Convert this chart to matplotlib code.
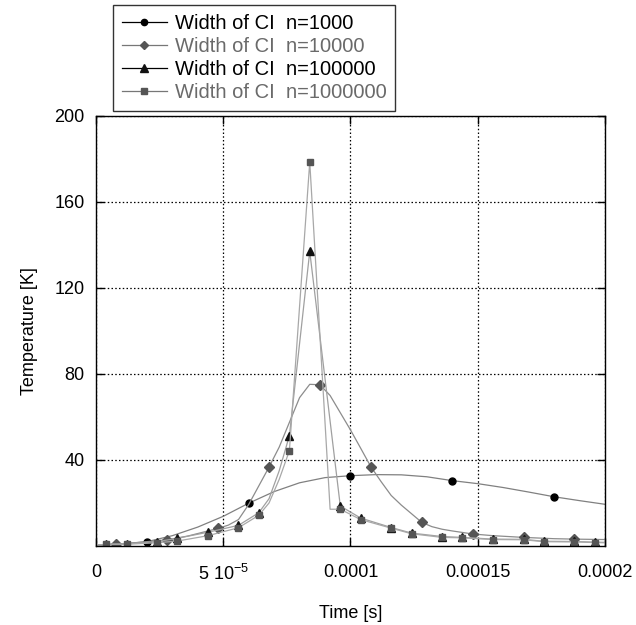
"""Width of CI vs time for four sample sizes."""
import numpy as np
import matplotlib

matplotlib.use("Agg")
import matplotlib.pyplot as plt
from matplotlib.lines import Line2D

# time in microseconds, temperature in K
t_1000 = [1, 10, 20, 30, 40, 50, 60, 70, 80, 90, 100, 110, 120, 130, 140,
          150, 160, 170, 180, 190, 200]
T_1000 = [0.3, 0.9, 2.0, 4.8, 8.8, 13.8, 19.9, 25.3, 29.4, 31.8, 32.7, 33.2,
          33.1, 32.2, 30.4, 29.0, 27.2, 25.1, 22.9, 21.1, 19.4]
mark_1000 = [2, 6, 10, 14, 18]

t_10k = [1, 8, 16, 28, 36, 48, 52, 56, 60, 64, 68, 72, 76, 80, 84, 88, 92,
         96, 100, 104, 108, 112, 116, 120, 124, 128, 132, 136, 140, 148, 156,
         168, 180, 188, 200]
T_10k = [0.5, 0.8, 1.6, 2.9, 4.6, 8.2, 9.7, 12.3, 19.3, 28.0, 36.7, 46.0,
         57.5, 69.0, 75.2, 75.0, 70.0, 62.0, 54.0, 45.5, 36.9, 30.0, 23.5,
         19.0, 15.0, 11.0, 9.0, 7.8, 7.0, 5.6, 4.8, 4.0, 3.4, 3.2, 3.0]
mark_10k = [1, 3, 5, 10, 15, 20, 25, 29, 31, 33]

t_100k = [1, 4, 12, 24, 32, 44, 56, 64, 68, 72, 76, 84, 96, 104, 116, 124,
          136, 144, 156, 168, 176, 188, 196, 200]
T_100k = [0.3, 0.9, 1.0, 2.0, 3.6, 6.4, 9.6, 15.5, 22.0, 35.0, 51.3, 137.0,
          18.6, 13.0, 8.6, 6.0, 4.4, 4.0, 3.2, 3.1, 2.2, 2.1, 1.8, 1.7]
mark_100k = [1, 2, 3, 4, 5, 6, 7, 10, 11, 12, 13, 14, 15, 16, 17, 18, 19, 20,
             21, 22]

t_1m = [1, 4, 12, 24, 32, 44, 56, 64, 68, 72, 76, 84, 92, 96, 104, 116, 124,
        136, 144, 156, 168, 176, 188, 196, 200]
T_1m = [0.3, 0.8, 0.8, 1.5, 2.3, 4.8, 8.5, 14.3, 20.0, 31.0, 44.3, 178.6,
        17.1, 17.1, 12.3, 8.3, 5.7, 4.0, 3.8, 3.0, 2.9, 2.0, 1.9, 1.6, 1.5]
mark_1m = [1, 2, 3, 4, 5, 6, 7, 10, 11, 13, 14, 15, 16, 17, 18, 19, 20, 21,
           22, 23]

labels = ["Width of CI  n=1000", "Width of CI  n=10000",
          "Width of CI  n=100000", "Width of CI  n=1000000"]

x_ticks = [0, 5e-5, 1e-4, 1.5e-4, 2e-4]
x_ticklabels = ["0", r"5 10$^{-5}$", "0.0001", "0.00015", "0.0002"]
y_ticks = [40, 80, 120, 160, 200]

plt.rcParams["font.family"] = ["Liberation Sans", "DejaVu Sans"]
plt.rcParams["mathtext.default"] = "regular"
plt.rcParams["font.size"] = 13

fig = plt.figure(figsize=(6.36, 6.25), dpi=100)
ax = fig.add_axes([0.1509, 0.1264, 0.8003, 0.688])

series = [
    (t_1000, T_1000, mark_1000, "o", 5.0, "#000000", "#808080", "#000000", "#000000"),
    (t_10k, T_10k, mark_10k, "D", 4.6, "#555555", "#8c8c8c", "#777777", "#6a6a6a"),
    (t_100k, T_100k, mark_100k, "^", 6.0, "#111111", "#a0a0a0", "#000000", "#000000"),
    (t_1m, T_1m, mark_1m, "s", 4.8, "#555555", "#a8a8a8", "#777777", "#6a6a6a"),
]

handles = []
for t, T, marks, mk, ms, mcol, lcol, hcol, tcol in series:
    x = np.array(t) * 1e-6
    ax.plot(x, T, color=lcol, lw=0.9, marker=mk, ms=ms, mfc=mcol, mec=mcol,
            markevery=marks)
    handles.append(Line2D([], [], color=hcol, lw=0.9, marker=mk, ms=ms - 0.5,
                          mfc=mcol, mec=mcol))

ax.set_xlim(0, 2e-4)
ax.set_ylim(0, 200)
ax.set_xticks(x_ticks)
ax.set_xticklabels(x_ticklabels)
ax.set_yticks(y_ticks)
ax.tick_params(direction="in", length=6, width=1, top=True, right=True)
ax.tick_params(axis="x", pad=13)
ax.tick_params(axis="y", pad=8)
ax.grid(True, color="black", lw=0.9, linestyle=(0, (1.2, 1.8)))
for s in ax.spines.values():
    s.set_linewidth(1.0)

ax.set_xlabel("Time [s]", labelpad=15)
ax.set_ylabel("Temperature [K]", labelpad=12)

leg = fig.legend(handles, labels, loc="upper left",
                 bbox_to_anchor=(0.178, 0.992), borderaxespad=0,
                 fancybox=False, frameon=True, edgecolor="black",
                 fontsize=14.5, handlelength=2.2, handletextpad=0.4,
                 labelspacing=0.2, borderpad=0.45)
leg.get_frame().set_linewidth(1.0)
for txt, (*_, tcol) in zip(leg.get_texts(), series):
    txt.set_color(tcol)

fig.savefig("out.png", dpi=100)
